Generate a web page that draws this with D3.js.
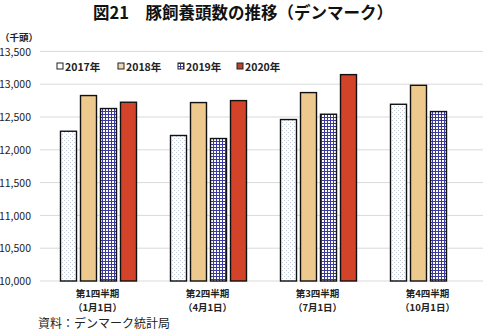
<!DOCTYPE html>
<html><head><meta charset="utf-8">
<script src="https://cdn.jsdelivr.net/npm/d3@7"></script>
<style>
body{margin:0;background:#fff;}
text{font-family:"Noto Sans CJK JP","Noto Sans",sans-serif;}
</style></head>
<body><svg id="c" width="483" height="335"></svg>
<script>
const categories = ["第1四半期|（1月1日）","第2四半期|（4月1日）","第3四半期|（7月1日）","第4四半期|（10月1日）"];
const seriesNames = ["2017年","2018年","2019年","2020年"];
const v2017 = [12283, 12218, 12461, 12694];
const v2018 = [12827, 12720, 12872, 12983];
const v2019 = [12629, 12172, 12542, 12583];
const v2020 = [12725, 12750, 13146, null];
const yTicks = [10000,10500,11000,11500,12000,12500,13000,13500];
const title = "図21　豚飼養頭数の推移（デンマーク）";
const unit = "（千頭）";
const source = "資料：デンマーク統計局";

const series = [v2017, v2018, v2019, v2020];
const svg = d3.select("#c");
const defs = svg.append("defs");
const pd = defs.append("pattern").attr("id","p0").attr("patternUnits","userSpaceOnUse").attr("width",4).attr("height",4);
pd.append("rect").attr("width",4).attr("height",4).attr("fill","#fff");
pd.append("rect").attr("x",0).attr("y",0).attr("width",1).attr("height",1).attr("fill","#c3cbd8");
pd.append("rect").attr("x",2).attr("y",2).attr("width",1).attr("height",1).attr("fill","#c3cbd8");
const pg = defs.append("pattern").attr("id","p2").attr("patternUnits","userSpaceOnUse").attr("width",3).attr("height",3);
pg.append("rect").attr("width",3).attr("height",3).attr("fill","#fff");
pg.append("rect").attr("x",0).attr("y",0).attr("width",1).attr("height",3).attr("fill","#3b3b9c");
pg.append("rect").attr("x",0).attr("y",0).attr("width",3).attr("height",1).attr("fill","#3b3b9c");

const fills = ["url(#p0)","#EDC98D","url(#p2)","#D2432A"];
const legendFills = ["#fff","#EDD9B8","url(#p2)","#B8452F"];

const x0 = d3.scaleBand().domain(categories).range([42.5,482.5]).paddingInner(0).paddingOuter(0);
const x1 = d3.scaleBand().domain(seriesNames).range([16,96]).paddingInner(0.2).paddingOuter(0.1);
const y = d3.scaleLinear().domain([10000,13500]).range([281,51.4]);

svg.append("g").selectAll("line").data(yTicks).join("line")
  .attr("x1",40).attr("x2",483).attr("y1",d=>y(d)).attr("y2",d=>y(d))
  .attr("stroke","#d9d9d9").attr("stroke-width",1);

const yAxis = d3.axisLeft(y).tickValues(yTicks).tickFormat(d3.format(",")).tickSize(0);
const ga = svg.append("g").attr("transform","translate(34,0)").call(yAxis);
ga.select(".domain").remove();
ga.selectAll("text").attr("font-size",10.5).attr("fill","#222").attr("font-family","Arial,'Liberation Sans',sans-serif").attr("dx",0).attr("dy","0.35em");

categories.forEach((c,i)=>{
  series.forEach((s,j)=>{
    if(s[i]==null) return;
    svg.append("rect")
      .attr("x", x0(c)+x1(seriesNames[j]))
      .attr("y", y(s[i]))
      .attr("width", x1.bandwidth())
      .attr("height", y(10000)-y(s[i]))
      .attr("fill", fills[j]).attr("stroke","#111").attr("stroke-width",1.4);
  });
});

categories.forEach(c=>{
  const [a,b] = c.split("|");
  const cx = x0(c)+x0.bandwidth()/2;
  svg.append("text").attr("x",cx).attr("y",297).attr("text-anchor","middle").attr("font-size",9.5).attr("font-weight","bold").attr("fill","#222").text(a);
  svg.append("text").attr("x",cx).attr("y",311).attr("text-anchor","middle").attr("font-size",9.5).attr("font-weight","bold").attr("fill","#222").text(b);
});

const lx = [57,118,178,237];
seriesNames.forEach((n,j)=>{
  svg.append("rect").attr("x",lx[j]).attr("y",63).attr("width",6).attr("height",6)
    .attr("fill",legendFills[j]).attr("stroke","#222").attr("stroke-width",1);
  svg.append("text").attr("x",lx[j]+8).attr("y",70.5).attr("font-size",10.5).attr("font-weight","bold").attr("fill","#222").text(n);
});

svg.append("text").attr("x",243).attr("y",19).attr("text-anchor","middle").attr("font-size",16.5).attr("font-weight","bold").attr("fill","#111").text(title);
svg.append("text").attr("x",0).attr("y",41).attr("font-size",9.5).attr("font-weight","bold").attr("fill","#222").text(unit);
svg.append("text").attr("x",38).attr("y",328).attr("font-size",12).attr("fill","#222").text(source);
</script></body></html>
